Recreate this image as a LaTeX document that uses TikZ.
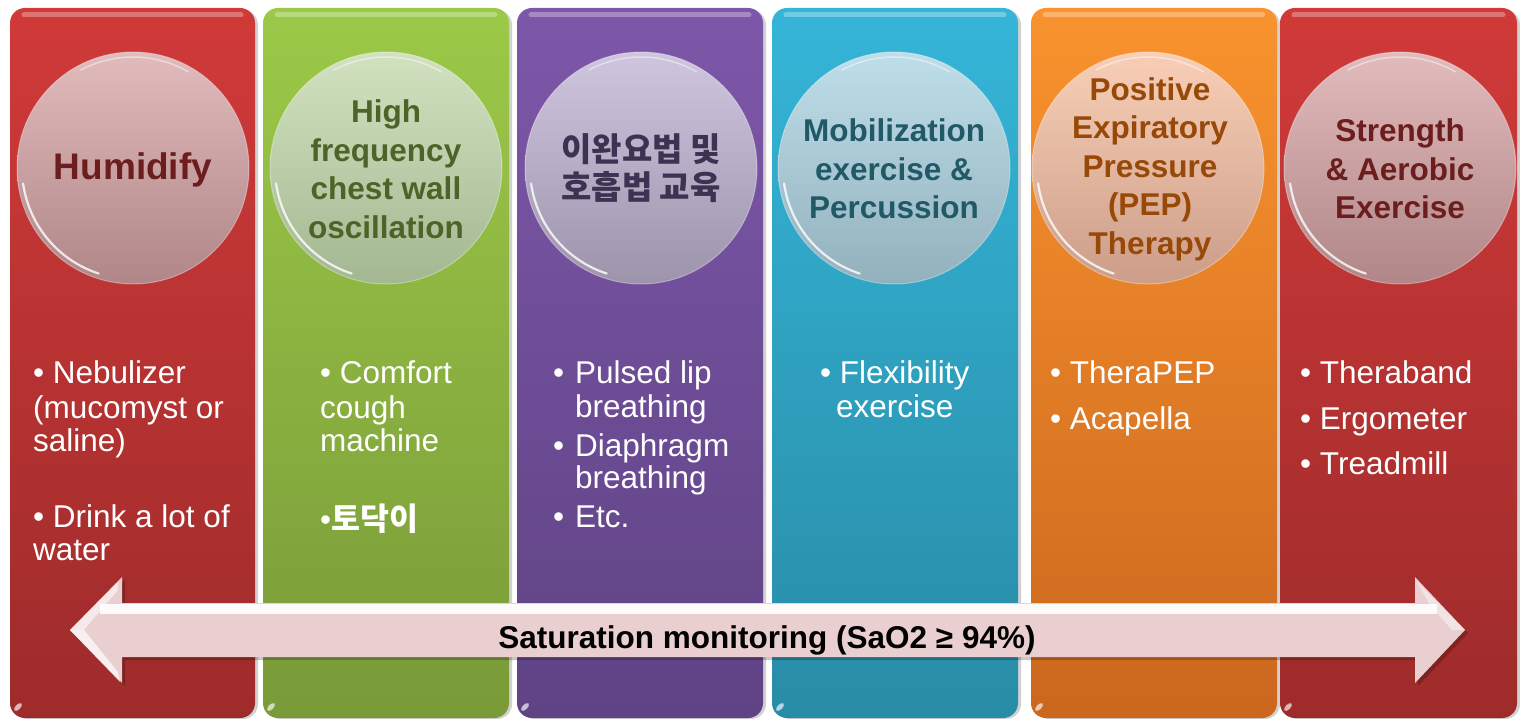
\documentclass[tikz,border=0pt]{standalone}
\usepackage{fontspec}
\setmainfont{Liberation Sans}
\newfontfamily\kr{Noto Sans CJK KR}
\definecolor{redT}{RGB}{208,58,57}
\definecolor{redB}{RGB}{158,43,43}
\definecolor{grnT}{RGB}{156,201,72}
\definecolor{grnB}{RGB}{121,154,56}
\definecolor{purT}{RGB}{125,87,169}
\definecolor{purB}{RGB}{95,67,132}
\definecolor{cyaT}{RGB}{53,181,216}
\definecolor{cyaB}{RGB}{40,140,166}
\definecolor{oraT}{RGB}{249,147,46}
\definecolor{oraB}{RGB}{203,103,30}
\definecolor{redCT}{RGB}{226,187,189}
\definecolor{redCB}{RGB}{176,134,136}
\definecolor{grnCT}{RGB}{210,226,192}
\definecolor{grnCB}{RGB}{163,183,146}
\definecolor{purCT}{RGB}{207,197,222}
\definecolor{purCB}{RGB}{157,147,171}
\definecolor{cyaCT}{RGB}{190,222,234}
\definecolor{cyaCB}{RGB}{146,177,189}
\definecolor{oraCT}{RGB}{248,207,182}
\definecolor{oraCB}{RGB}{204,157,137}
\definecolor{redTx}{RGB}{108,30,30}
\definecolor{grnTx}{RGB}{79,98,40}
\definecolor{purTx}{RGB}{63,49,81}
\definecolor{cyaTx}{RGB}{33,89,103}
\definecolor{oraTx}{RGB}{152,72,7}
\definecolor{arrC}{RGB}{233,207,207}
\begin{document}
\begin{tikzpicture}[x=1pt,y=-1pt]
\tikzset{
  colbox/.style={rectangle, rounded corners=15pt, minimum height=710pt, inner sep=0pt},
  circ/.style={circle, minimum size=232pt, inner sep=0pt, draw=white, draw opacity=.35, line width=1pt},
  ctitle/.style={inner sep=0pt, align=center, font=\bfseries\fontsize{31.5}{38.5}\selectfont},
  bul/.style={anchor=base west, inner sep=0pt, text=white, font=\fontsize{31.5}{34}\selectfont},
  gloss/.style={white, opacity=.3, line width=5pt, line cap=round},
  rim/.style={white, opacity=.8, line width=2.2pt, line cap=round},
  glint/.style={white, opacity=.65},
}
\fill[white] (0,0) rectangle (1520,719);
\useasboundingbox (0,0) rectangle (1520,719);
% shadows of the columns
\foreach \a/\b in {10/255,263/509,517/763,772/1018,1031/1277,1280/1517}
  \fill[black!18, rounded corners=15pt] (\a+3,10) rectangle (\b+3,719);
% columns
\node[colbox, minimum width=245pt, top color=redT, bottom color=redB] (c1) at (132.5,363) {};
\node[colbox, minimum width=246pt, top color=grnT, bottom color=grnB] (c2) at (386,363) {};
\node[colbox, minimum width=246pt, top color=purT, bottom color=purB] (c3) at (640,363) {};
\node[colbox, minimum width=246pt, top color=cyaT, bottom color=cyaB] (c4) at (895,363) {};
\node[colbox, minimum width=246pt, top color=oraT, bottom color=oraB] (c5) at (1154,363) {};
\node[colbox, minimum width=237pt, top color=redT, bottom color=redB] (c6) at (1398.5,363) {};
% top gloss strips and corner glints
\foreach \a/\b in {10/255,263/509,517/763,772/1018,1031/1277,1280/1517}{
  \draw[gloss] (\a+14,15) -- (\b-14,15);
  \fill[glint, rotate around={45:(\a+8,707)}] (\a+8,707) ellipse (5pt and 2.5pt);
}
% circles
\node[circ, top color=redCT, bottom color=redCB] (k1) at (133,168) {};
\node[circ, top color=grnCT, bottom color=grnCB] (k2) at (386,168) {};
\node[circ, top color=purCT, bottom color=purCB] (k3) at (641,168) {};
\node[circ, top color=cyaCT, bottom color=cyaCB] (k4) at (894,168) {};
\node[circ, top color=oraCT, bottom color=oraCB] (k5) at (1148,168) {};
\node[circ, top color=redCT, bottom color=redCB] (k6) at (1400,168) {};
\foreach \cx in {133,386,641,894,1148,1400}{
  \draw[rim] plot[domain=188:252, samples=30, smooth] ({\cx+111*cos(\x)}, {168-111*sin(\x)});
  \draw[white, opacity=.45, line width=1.5pt, line cap=round] plot[domain=60:118, samples=30, smooth] ({\cx+111*cos(\x)}, {168-111*sin(\x)});
}
% circle titles
\node[ctitle, text=redTx, font=\bfseries\fontsize{37}{40}\selectfont] (t1) at (133,170) {Humidify};
\node[ctitle, text=grnTx] (t2) at (386,169) {High\\frequency\\chest wall\\oscillation};
\node[ctitle, text=purTx, font=\kr\bfseries\fontsize{33}{38.5}\selectfont] (t3) at (641,168) {이완요법 및\\호흡법 교육};
\node[ctitle, text=cyaTx] (t4) at (894,169) {Mobilization\\exercise \&\\Percussion};
\node[ctitle, text=oraTx] (t5) at (1150,169) {Positive\\Expiratory\\Pressure\\(PEP)\\Therapy};
\node[ctitle, text=redTx] (t6) at (1400,169) {Strength\\\& Aerobic\\Exercise};
% bullets, column 1
\node[bul] (b11a) at (33,383) {• Nebulizer};
\node[bul] (b11b) at (33,418) {(mucomyst or};
\node[bul] (b11c) at (33,451) {saline)};
\node[bul] (b12a) at (33,527) {• Drink a lot of};
\node[bul] (b12b) at (33,560) {water};
% column 2
\node[bul] (b21a) at (320,383) {• Comfort};
\node[bul] (b21b) at (320,418) {cough};
\node[bul] (b21c) at (320,451) {machine};
\node[bul] (b22) at (320,530) {•{\kr\bfseries 토닥이}};
% column 3
\node[bul] (b31d) at (553,383) {•};
\node[bul] (b31a) at (575,383) {Pulsed lip};
\node[bul] (b31b) at (575,417) {breathing};
\node[bul] (b32d) at (553,456) {•};
\node[bul] (b32a) at (575,456) {Diaphragm};
\node[bul] (b32b) at (575,488) {breathing};
\node[bul] (b33d) at (553,527) {•};
\node[bul] (b33a) at (575,527) {Etc.};
% column 4
\node[bul] (b41) at (820,383) {• Flexibility};
\node[bul] (b42) at (836,417) {exercise};
% column 5
\node[bul] (b51) at (1050,383) {• TheraPEP};
\node[bul] (b52) at (1050,429) {• Acapella};
% column 6
\node[bul] (b61) at (1300,383) {• Theraband};
\node[bul] (b62) at (1300,429) {• Ergometer};
\node[bul] (b63) at (1300,474) {• Treadmill};
% double arrow
\fill[black, opacity=.22] (73,633) -- (125,580) -- (125,606) -- (1418,606) -- (1418,580) -- (1468,633) -- (1418,686) -- (1418,660) -- (125,660) -- (125,686) -- cycle;
\fill[arrC] (70,630) -- (122,577) -- (122,603) -- (1415,603) -- (1415,577) -- (1465,630) -- (1415,683) -- (1415,657) -- (122,657) -- (122,683) -- cycle;
\fill[white, opacity=.9] (100,604) rectangle (1437,614);
\fill[white, opacity=.55] (70,630) -- (118,582) -- (118,590) -- (84,630) -- cycle;
\fill[white, opacity=.7] (70,630) -- (84,630) -- (118,672) -- (120,682) -- cycle;
\fill[white, opacity=.45] (1465,630) -- (1417,582) -- (1430,605) -- (1452,630) -- cycle;
\node[inner sep=0pt, font=\bfseries\fontsize{31.5}{34}\selectfont] (sat) at (767,640) {Saturation monitoring (SaO2 ≥ 94\%)};
\end{tikzpicture}
\end{document}
